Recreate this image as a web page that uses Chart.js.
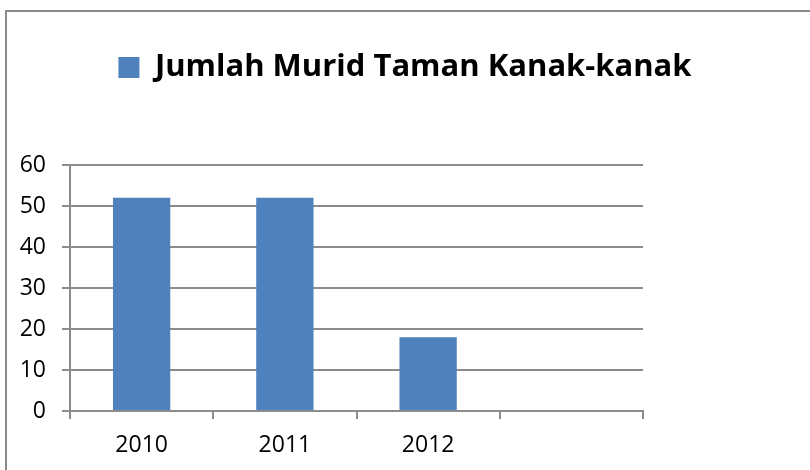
<!DOCTYPE html>
<html>
<head>
<meta charset="utf-8">
<script src="https://cdn.jsdelivr.net/npm/chart.js@4"></script>
<style>
  html, body { margin: 0; padding: 0; background: #fff; }
  #wrap { width: 810px; height: 470px; position: relative; }
</style>
</head>
<body>
<div id="wrap"><canvas id="muridChart"></canvas></div>
<script>
const years = ['2010', '2011', '2012', ''];
const jumlahMurid = [52, 52, 18, null];
const seriesName = 'Jumlah Murid Taman Kanak-kanak';
const yTicks = [0, 10, 20, 30, 40, 50, 60];

const gridGray = '#8c8c8c';
const fontFamily = '"Open Sans", "Liberation Sans", sans-serif';

// frame around the whole chart (top and left edges visible)
const framePlugin = {
    id: 'frame',
    beforeDraw(chart) {
        const c = chart.ctx;
        c.save();
        c.strokeStyle = '#8a8a8a';
        c.lineWidth = 2;
        c.beginPath();
        c.moveTo(6, chart.height);
        c.lineTo(6, 11);
        c.lineTo(chart.width, 11);
        c.stroke();
        c.restore();
    }
};

document.addEventListener('DOMContentLoaded', () => {
    const ctx = document.getElementById('muridChart').getContext('2d');
    new Chart(ctx, {
        type: 'bar',
        data: {
            labels: years,
            datasets: [{
                label: seriesName,
                data: jumlahMurid,
                backgroundColor: '#4f81bd',
                borderWidth: 0,
                barPercentage: 0.4,
                categoryPercentage: 1
            }]
        },
        options: {
            responsive: true,
            maintainAspectRatio: false,
            animation: false,
            layout: { padding: 0 },
            scales: {
                x: {
                    position: 'bottom',
                    offset: true,
                    grid: {
                        offset: true,
                        drawOnChartArea: false,
                        drawTicks: true,
                        tickLength: 8,
                        color: gridGray,
                        lineWidth: 2
                    },
                    border: { display: true, color: gridGray, width: 2 },
                    ticks: {
                        color: '#000',
                        font: { family: fontFamily, size: 23 },
                        padding: 13,
                        maxRotation: 0
                    },
                    afterFit: (s) => { s.height = 59; }
                },
                xTop: {
                    type: 'category',
                    position: 'top',
                    labels: years,
                    grid: { display: false, drawTicks: false },
                    border: { display: false },
                    ticks: { display: false },
                    afterFit: (s) => { s.height = 72; }
                },
                y: {
                    position: 'left',
                    min: 0,
                    max: 60,
                    afterBuildTicks: (s) => { s.ticks = yTicks.map(v => ({ value: v })); },
                    grid: {
                        color: gridGray,
                        lineWidth: 2,
                        tickLength: 8
                    },
                    border: { display: true, color: gridGray, width: 2 },
                    ticks: {
                        color: '#000',
                        font: { family: fontFamily, size: 23 },
                        padding: 16
                    },
                    afterFit: (s) => { s.width = 70; }
                },
                yRight: {
                    position: 'right',
                    grid: { display: false, drawTicks: false },
                    border: { display: false },
                    ticks: { display: false },
                    afterFit: (s) => { s.width = 167; }
                }
            },
            plugins: {
                legend: {
                    display: true,
                    position: 'top',
                    align: 'center',
                    labels: {
                        boxWidth: 21,
                        boxHeight: 21,
                        padding: 52,
                        color: '#000',
                        font: { family: fontFamily, size: 31, weight: 'bold' }
                    }
                },
                tooltip: { enabled: false }
            }
        },
        plugins: [framePlugin]
    });
});
</script>
</body>
</html>
